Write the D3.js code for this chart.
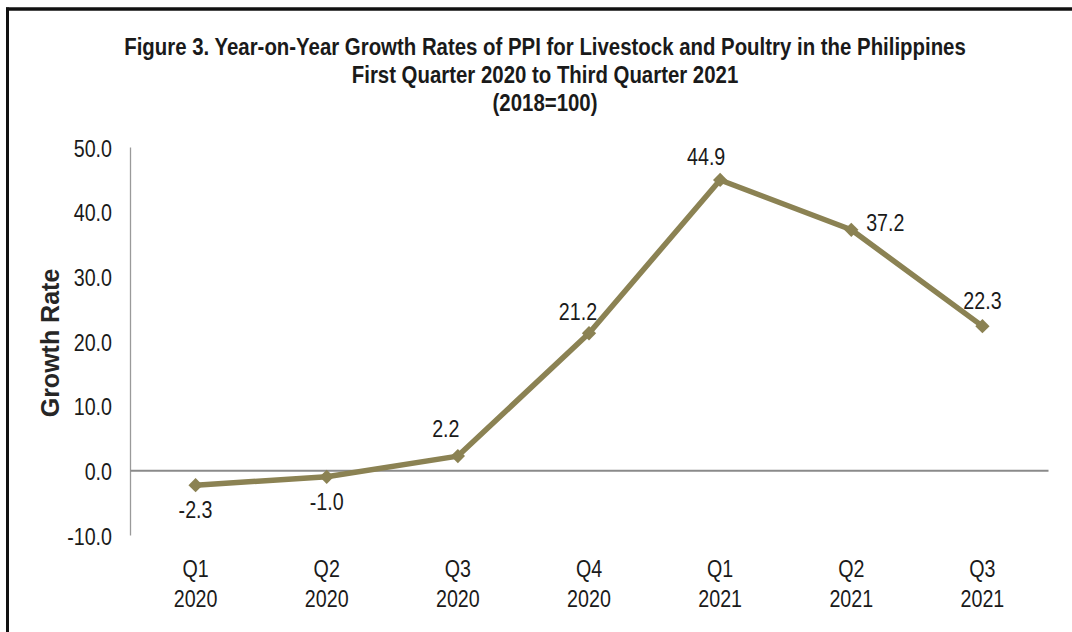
<!DOCTYPE html>
<html>
<head>
<meta charset="utf-8">
<script src="https://cdn.jsdelivr.net/npm/d3@7"></script>
<style>
  html, body { margin: 0; padding: 0; background: #fff; }
  svg { display: block; }
</style>
</head>
<body>
<svg id="chart" width="1072" height="632"></svg>
<script>
// Year-on-year growth rates of PPI for livestock and poultry
const quarters = ["Q1", "Q2", "Q3", "Q4", "Q1", "Q2", "Q3"];
const years = ["2020", "2020", "2020", "2020", "2021", "2021", "2021"];
const growth = [-2.3, -1.0, 2.2, 21.2, 44.9, 37.2, 22.3];
const yTicks = [-10, 0, 10, 20, 30, 40, 50];
const titleLines = [
  "Figure 3. Year-on-Year Growth Rates of PPI for Livestock and Poultry in the Philippines",
  "First Quarter 2020 to Third Quarter 2021",
  "(2018=100)"
];

const W = 1072, H = 632;
const margin = { left: 130, right: 24, top: 147, bottom: 97 };
const FONT = "'Liberation Sans', Arial, sans-serif";
const NARROW = 0.82;           // horizontal squeeze for a condensed look
const TEXT = "#1a1a1a";
const svg = d3.select("#chart");

// condensed text helper: anchor point (x,y), squeezed horizontally
function narrowText(parent, x, y, str, size, anchor, squeeze) {
  return parent.append("text")
    .attr("transform", `translate(${x},${y}) scale(${squeeze || NARROW},1)`)
    .attr("text-anchor", anchor || "middle")
    .attr("font-family", FONT).attr("font-size", size).attr("fill", TEXT)
    .text(str);
}
const fmt = d => d.toFixed(1);

// outer frame (top and left edges)
svg.append("line").attr("x1", 6).attr("x2", W).attr("y1", 9).attr("y2", 9)
  .attr("stroke", "#111").attr("stroke-width", 3.5);
svg.append("line").attr("x1", 7.5).attr("x2", 7.5).attr("y1", 7.5).attr("y2", H)
  .attr("stroke", "#111").attr("stroke-width", 3);

const x = d3.scaleBand()
  .domain(d3.range(growth.length))
  .range([margin.left, W - margin.right]);

const y = d3.scaleLinear()
  .domain([-10, 50])
  .range([H - margin.bottom, margin.top]);

// title
titleLines.forEach((t, i) => {
  narrowText(svg, 545, 55 + i * 28, t, 24, "middle", 0.85).attr("font-weight", "bold");
});

// y axis
const yAxis = d3.axisLeft(y).tickValues(yTicks).tickSize(0).tickPadding(0)
  .tickFormat(fmt);
const gy = svg.append("g").attr("transform", `translate(${margin.left},0)`).call(yAxis);
gy.select(".domain").attr("stroke", "#9a9a9a").attr("stroke-width", 1.3);
gy.selectAll(".tick text")
  .attr("x", 0).attr("dy", null).attr("y", 0)
  .attr("transform", `translate(-18,9) scale(${NARROW},1)`)
  .attr("font-family", FONT).attr("font-size", 24).attr("fill", TEXT);

// zero baseline
const xAxis = d3.axisBottom(x).tickSize(0).tickFormat(() => "");
const gx = svg.append("g").attr("transform", `translate(0,${y(0)})`).call(xAxis);
gx.select(".domain").attr("stroke", "#8a8a8a").attr("stroke-width", 2);

// category labels under the plot
const cx = i => x(i) + x.bandwidth() / 2;
const catG = svg.append("g");
growth.forEach((v, i) => {
  narrowText(catG, cx(i), y(-10) + 42, quarters[i], 24);
  narrowText(catG, cx(i), y(-10) + 72, years[i], 24);
});

// y axis title
svg.append("text")
  .attr("transform", `translate(59,${y(20) + 2}) rotate(-90)`)
  .attr("text-anchor", "middle")
  .attr("font-family", FONT)
  .attr("font-weight", "bold").attr("font-size", 25).attr("fill", "#262626")
  .text("Growth Rate");

// series line and diamond markers
const lineColor = "#8b8253";
svg.append("path")
  .datum(growth)
  .attr("fill", "none").attr("stroke", lineColor).attr("stroke-width", 5.5)
  .attr("stroke-linejoin", "round")
  .attr("d", d3.line().x((d, i) => cx(i)).y(d => y(d)));

svg.selectAll(".marker").data(growth).enter().append("path")
  .attr("class", "marker")
  .attr("transform", (d, i) => `translate(${cx(i)},${y(d)})`)
  .attr("d", d3.symbol(d3.symbolDiamond2, 130)())
  .attr("fill", lineColor);

// data labels: dx/dy offsets relative to each point
const labelOffsets = [[0, 33], [0, 33], [-12, -19], [-11, -13], [-14, -15], [34, 1], [0, -17]];
const labG = svg.append("g");
growth.forEach((d, i) => {
  narrowText(labG, cx(i) + labelOffsets[i][0], y(d) + labelOffsets[i][1], fmt(d), 24);
});
</script>
</body>
</html>
